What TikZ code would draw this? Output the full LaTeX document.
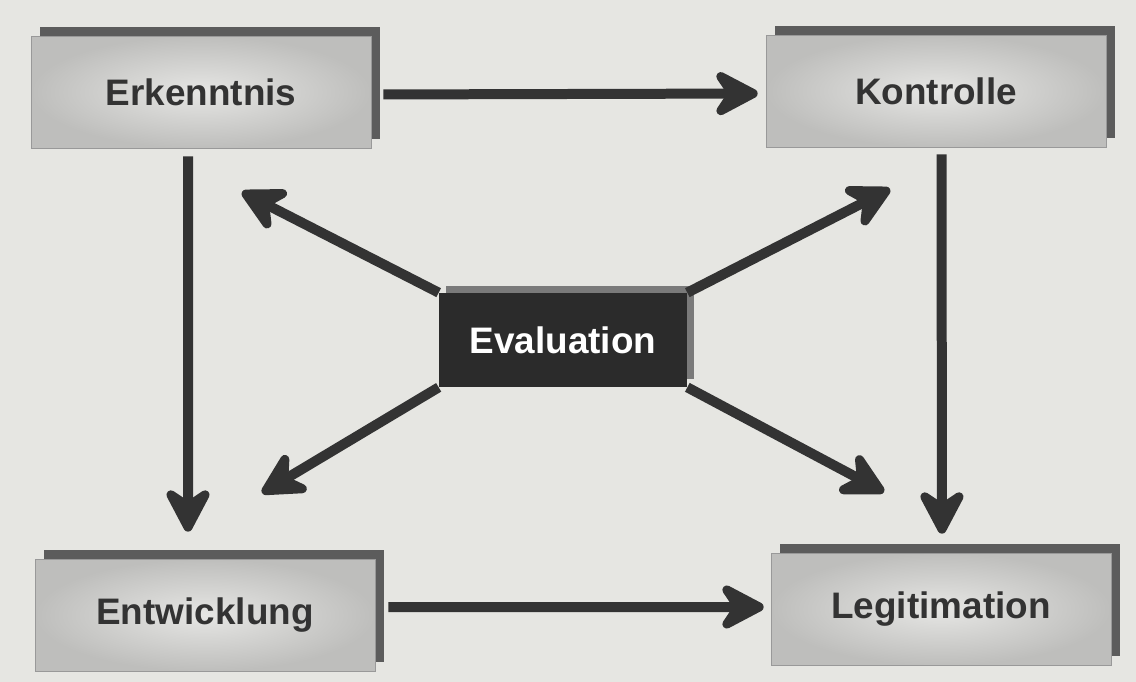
\documentclass[tikz,border=0pt]{standalone}
\usepackage{fontspec}
\setmainfont{Liberation Sans}
\usetikzlibrary{arrows.meta,shadows}
\definecolor{paper}{HTML}{E6E6E2}
\definecolor{boxin}{HTML}{E6E6E4}
\definecolor{boxout}{HTML}{BEBEBC}
\definecolor{shade}{HTML}{5C5C5C}
\definecolor{ink}{HTML}{333333}
\definecolor{evalfill}{HTML}{2B2B2B}
\definecolor{evalshade}{HTML}{7A7A7A}
\tikzset{
  stage/.style={draw=gray!80,thin,inner color=boxin,outer color=boxout,
    minimum width=6.8cm,minimum height=2.24cm,text=ink,
    font=\fontsize{21}{25}\selectfont\bfseries,
    general shadow={fill=shade,shadow xshift=.18cm,shadow yshift=.18cm}},
  evalbox/.style={fill=evalfill,text=white,minimum width=4.96cm,minimum height=1.88cm,
    font=\fontsize{21}{25}\selectfont\bfseries,
    general shadow={fill=evalshade,shadow xshift=.14cm,shadow yshift=.15cm}},
  flow/.style={draw=ink,line width=.2cm,
    -{Stealth[length=1.1cm,width=1.15cm,inset=.38cm,round]}}
}

\begin{document}
\begin{tikzpicture}[x=0.02cm,y=-0.02cm]
\fill[paper] (0,0) rectangle (1136,682);
\useasboundingbox (0,0) rectangle (1136,682);
\node[stage] (erk) at (201,92) {Erkenntnis};
\node[stage] (kon) at (936,91) {Kontrolle};
\node[stage] (ent) at (205,615) {Entwicklung};
\node[stage] (leg) at (941,609) {Legitimation};
\node[evalbox] (eva) at (563,340) {Evaluation};
\coordinate (tl) at (242,192);
\coordinate (tr) at (890,189);
\coordinate (bl) at (262,493);
\coordinate (br) at (884,492);
\draw[flow,shorten <=.24cm,shorten >=.16cm] ([yshift=-.05cm]erk.east) -- ([yshift=-.05cm]kon.west);
\draw[flow,shorten <=.26cm,shorten >=.14cm] ([yshift=.16cm]ent.east) -- ([yshift=.04cm]leg.west);
\draw[flow,shorten <=.16cm,shorten >=.54cm] ([xshift=-.26cm]erk.south) -- ([xshift=-.34cm]ent.north);
\draw[flow,shorten <=.14cm,shorten >=.38cm] ([xshift=.11cm]kon.south) -- ([xshift=.02cm]leg.north);
\draw[flow] (eva.north west) -- (tl);
\draw[flow] (eva.north east) -- (tr);
\draw[flow] (eva.south west) -- (bl);
\draw[flow] (eva.south east) -- (br);
\end{tikzpicture}
\end{document}
